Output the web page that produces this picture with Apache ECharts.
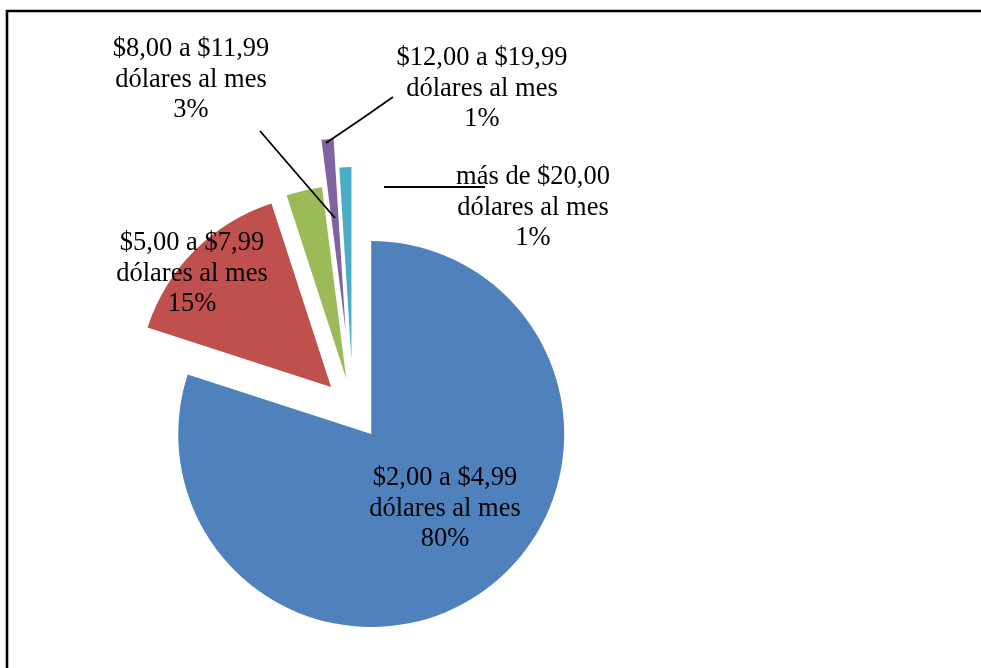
<!DOCTYPE html>
<html>
<head>
<meta charset="utf-8">
<script src="https://cdn.jsdelivr.net/npm/echarts@6/dist/echarts.min.js"></script>
<style>
  html, body { margin: 0; padding: 0; background: #fff; }
  #chart { width: 981px; height: 668px; }
</style>
</head>
<body>
<div id="chart"></div>
<script>
// Monthly spending brackets and their share of respondents
const categories = [
  '$2,00 a $4,99 dólares al mes',
  '$5,00 a $7,99 dólares al mes',
  '$8,00 a $11,99 dólares al mes',
  '$12,00 a $19,99 dólares al mes',
  'más de $20,00 dólares al mes'
];
const shares = [80, 15, 3, 1, 1];

// Styling and layout
const sliceColors = ['#4F81BD', '#C0504D', '#9BBB59', '#8064A2', '#4BACC6'];
const pullOut = [31, 31, 31, 78, 49];          // explode distance of each slice, px
const pieCenter = [353, 409];
const pieRadius = 193;
const labelAnchors = [[445, 509], [192, 274], [191, 80], [482, 89], [533, 208]];
const leaderLines = [
  null,
  null,
  [[335, 218], [297, 174], [260, 131]],
  [[326, 143], [360, 120], [393, 97]],
  [[384, 187], [435, 187], [485, 187]]
];

const labelFont = {
  fontFamily: '"Liberation Serif", "Times New Roman", serif',
  fontSize: 26.5,
  lineHeight: 30.5,
  color: '#000'
};

const basePie = {
  type: 'pie',
  center: pieCenter,
  radius: [0, pieRadius],
  startAngle: 90,
  clockwise: true,
  avoidLabelOverlap: false,
  animation: false,
  emphasis: { disabled: true, scale: false },
  itemStyle: { borderWidth: 0 }
};

// Slices: one pie series per explode distance; every series carries the
// full data so the angles stay shared, and only its own slices are visible.
const offsetGroups = [...new Set(pullOut)];

const sliceSeries = offsetGroups.map(function (off) {
  return Object.assign({}, basePie, {
    selectedMode: 'multiple',
    selectedOffset: off,
    select: { itemStyle: { borderWidth: 0 } },
    label: { show: false },
    labelLine: { show: false },
    data: categories.map(function (name, i) {
      const own = pullOut[i] === off;
      return {
        name: name,
        value: shares[i],
        selected: own,
        itemStyle: { color: own ? sliceColors[i] : 'rgba(0,0,0,0)' }
      };
    })
  });
});

// Labels and leader lines, carried by a transparent pie on the same angles.
const labelSeries = Object.assign({}, basePie, {
  silent: true,
  z: 5,
  itemStyle: { color: 'rgba(0,0,0,0)', borderWidth: 0 },
  label: Object.assign({
    show: true,
    position: 'outside',
    align: 'center',
    formatter: function (p) {
      return p.name.replace(' dólares', '\ndólares') + '\n' + p.value + '%';
    }
  }, labelFont),
  labelLine: {
    show: true,
    length: 0,
    length2: 0,
    smooth: false,
    lineStyle: { color: '#000', width: 1.8 }
  },
  labelLayout: function (params) {
    const i = params.dataIndex;
    const out = {
      x: labelAnchors[i][0],
      y: labelAnchors[i][1],
      align: 'center',
      verticalAlign: 'middle'
    };
    if (leaderLines[i]) out.labelLinePoints = leaderLines[i];
    return out;
  },
  data: categories.map(function (name, i) {
    return {
      name: name,
      value: shares[i],
      labelLine: { show: leaderLines[i] !== null }
    };
  })
});

const chart = echarts.init(document.getElementById('chart'), null, { renderer: 'canvas' });
chart.setOption({
  backgroundColor: '#fff',
  animation: false,
  tooltip: { show: false },
  graphic: [{
    type: 'rect',
    shape: { x: 7, y: 11, width: 1000, height: 700 },
    style: { fill: 'none', stroke: '#000', lineWidth: 2.6 },
    silent: true,
    z: -10
  }],
  series: sliceSeries.concat([labelSeries])
});
</script>
</body>
</html>
